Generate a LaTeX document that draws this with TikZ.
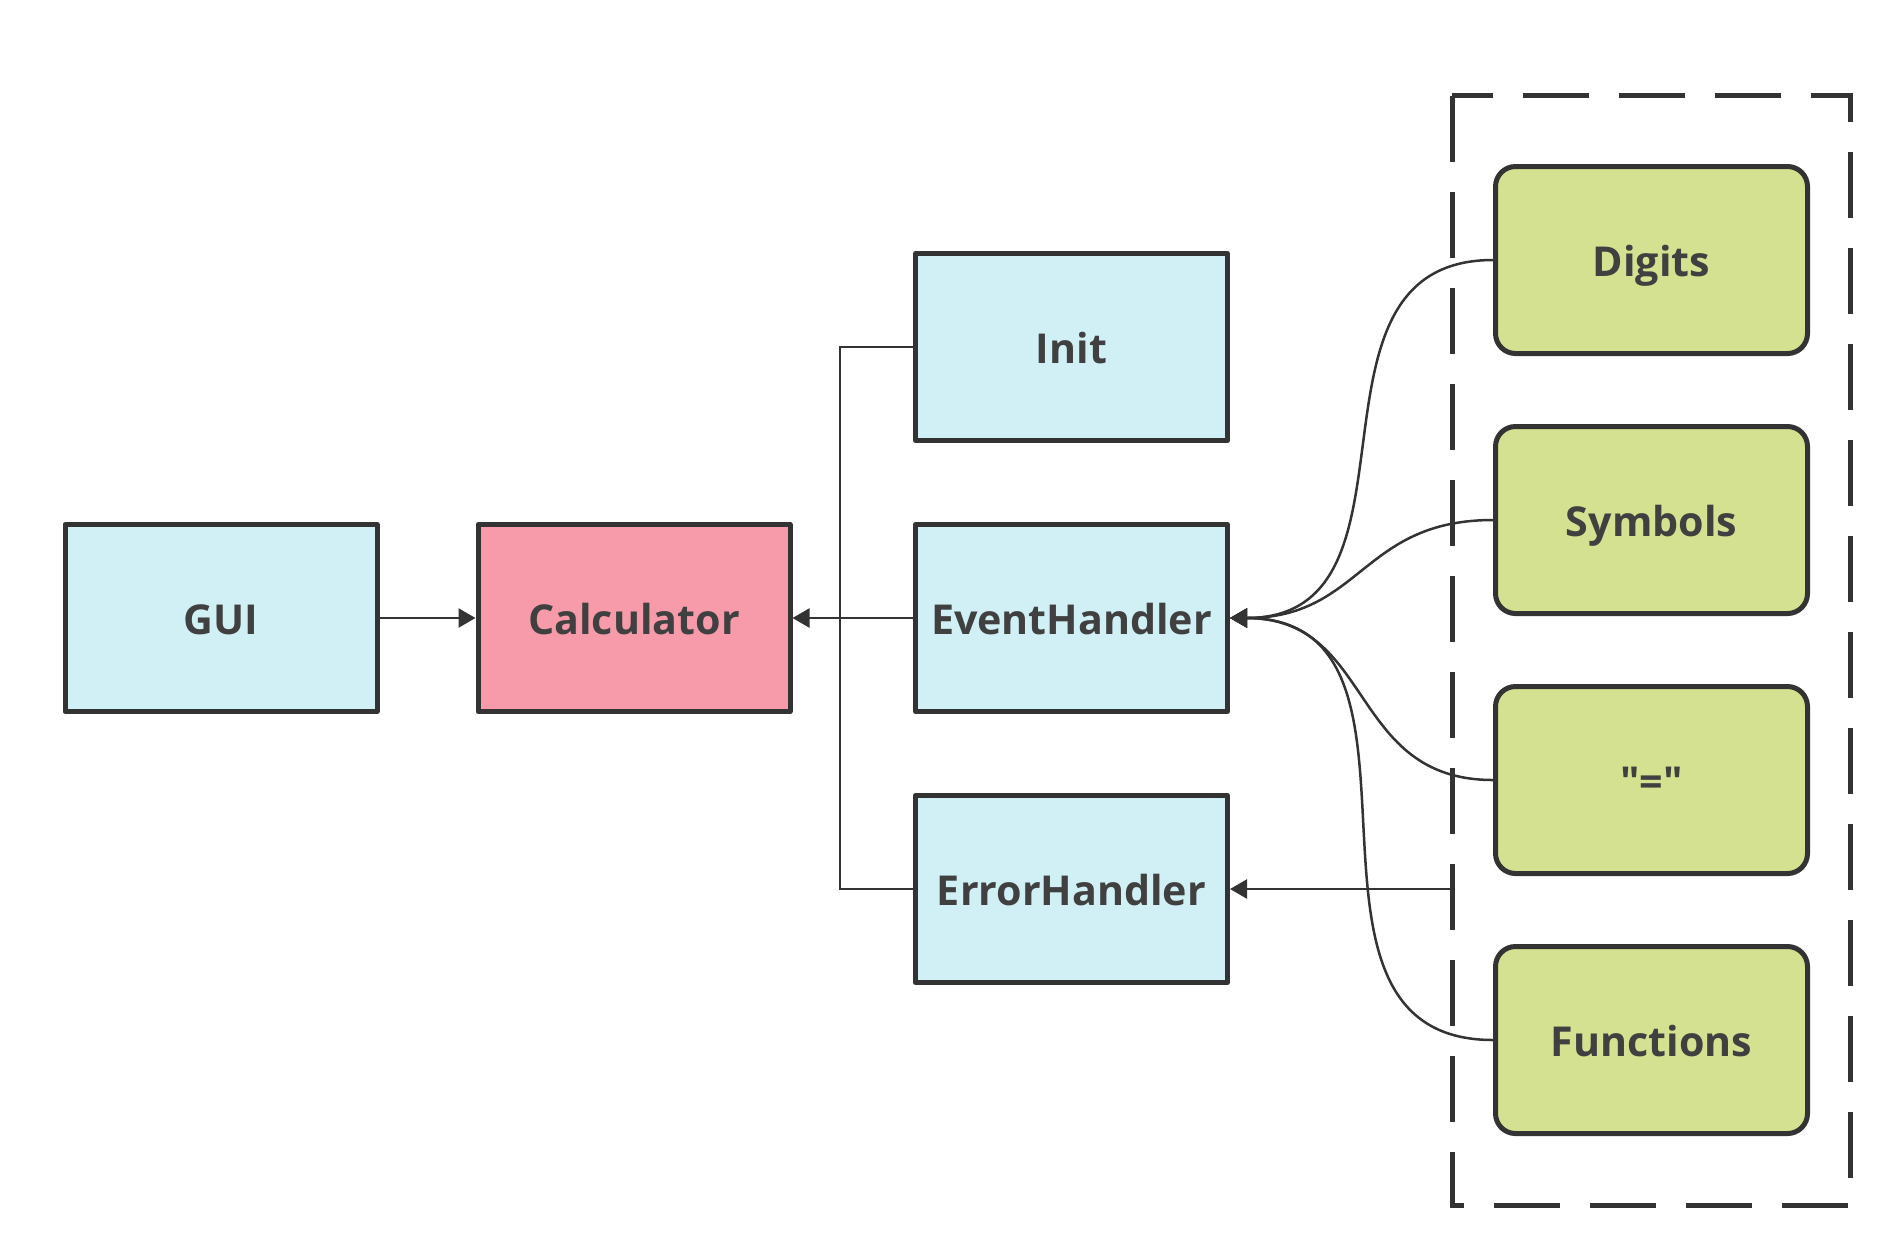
\documentclass[tikz,border=0pt]{standalone}
\usepackage{fontspec}
\setmainfont{Open Sans}
\usetikzlibrary{arrows.meta}

% цвета
\definecolor{linecol}{HTML}{333333}
\definecolor{textcol}{HTML}{404040}
\definecolor{modfill}{HTML}{D0F0F5}
\definecolor{corefill}{HTML}{F79BAB}
\definecolor{inputfill}{HTML}{D3E191}

\tikzset{
	block/.style={draw=linecol, line width=2.5pt, line join=round,
		minimum width=156pt, minimum height=93.5pt, inner sep=0pt,
		text height=16.3pt, text depth=0pt,
		text=textcol, font=\fontsize{20.6}{24}\selectfont\bfseries},
	module/.style={block, fill=modfill},
	core/.style={block, fill=corefill},
	input/.style={block, fill=inputfill, rounded corners=10pt},
	wire/.style={draw=linecol, line width=1.25pt},
	arrow/.style={wire, -{Triangle[length=8.5pt, width=9.5pt]}},
	groupframe/.style={draw=linecol, line width=2.5pt, dash pattern=on 33pt off 15pt}
}

\begin{document}
\begin{tikzpicture}[x=0.5pt, y=-0.5pt]
	% поле рисунка
	\fill[white] (0,0) rectangle (1889,1255);
	\useasboundingbox (0,0) rectangle (1889,1255);

	% основные блоки
	\node[module] (gui) at (221,618) {GUI};
	\node[core] (calc) at (634,618) {Calculator};
	\node[module] (init) at (1071.5,347) {Init};
	\node[module] (events) at (1071.5,618) {EventHandler};
	\node[module] (errors) at (1071.5,889) {ErrorHandler};

	% входные события
	\node[input] (digits) at (1651.5,260) {Digits};
	\node[input] (symbols) at (1651.5,520) {Symbols};
	\node[input] (equals) at (1651.5,780) {\textquotedbl=\textquotedbl};
	\node[input] (functions) at (1651.5,1040) {Functions};

	% пунктирная рамка вокруг входов
	\draw[groupframe] (1452,95.5) rectangle (1850.5,1205.5);
	\coordinate (groupedge) at (1452,889);

	% связи
	\draw[arrow] (gui) -- (calc);
	\draw[arrow] (events) -- (calc);
	\coordinate (bus) at (840,618);
	\draw[wire] (init.west) -| (bus) |- (errors.west);
	\foreach \src in {digits, symbols, equals, functions}
		\draw[arrow] (\src.west) to[out=180, in=0, looseness=1.2] (events.east);
	\draw[arrow] (groupedge) -- (errors.east);
\end{tikzpicture}
\end{document}
